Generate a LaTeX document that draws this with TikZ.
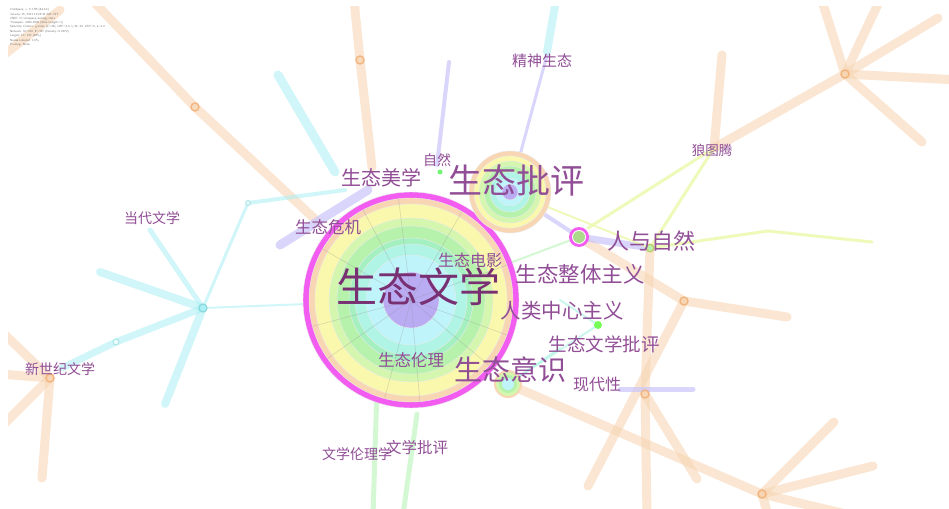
\documentclass[tikz,border=0pt]{standalone}
\usepackage{fontspec}
\newfontfamily\cjk{Noto Sans CJK SC}
\definecolor{peach}{RGB}{248,214,180}
\definecolor{peachd}{RGB}{240,172,112}
\definecolor{cyanl}{RGB}{170,240,245}
\definecolor{lav}{RGB}{205,200,250}
\definecolor{yel}{RGB}{236,250,175}
\definecolor{grn}{RGB}{190,245,190}
\definecolor{lab}{RGB}{145,78,150}
\definecolor{labd}{RGB}{120,48,115}
\definecolor{pinkr}{RGB}{242,92,240}
\definecolor{ryel}{RGB}{250,248,172}
\definecolor{rgrn1}{RGB}{212,246,175}
\definecolor{rgrn2}{RGB}{182,242,172}
\definecolor{rgrn3}{RGB}{165,240,192}
\definecolor{rcy1}{RGB}{175,244,228}
\definecolor{rcy2}{RGB}{190,244,250}
\definecolor{rpur}{RGB}{185,172,242}
\tikzset{
  oline/.style={draw=peach, line width=9pt, line cap=round, opacity=0.6},
  cline/.style={draw=cyanl, line width=8pt, line cap=round, opacity=0.55},
  lline/.style={draw=lav, line width=4pt, line cap=round, opacity=0.75},
  yline/.style={draw=yel, line width=3pt, line cap=round, opacity=0.85},
  gline/.style={draw=grn, line width=5pt, line cap=round, opacity=0.65},
  spoke/.style={draw=black!45, line width=0.6pt, opacity=0.3},
  omark/.style={draw=peachd, line width=1.4pt, fill=peach, opacity=0.8},
  kw/.style={text=lab, inner sep=0pt, font=\cjk},
  hdr/.style={text=black!55, inner sep=0pt, anchor=west, font=\sffamily\fontsize{3}{3.6}\selectfont}
}
\begin{document}
\begin{tikzpicture}[x=1pt,y=-1pt]
\useasboundingbox (0,0) rectangle (949,508);
\fill[white] (0,0) rectangle (949,508);
% network points
\coordinate (wx) at (411,300);
\coordinate (pp) at (510,192);
\coordinate (rz) at (579,237);
\coordinate (ys) at (508,384);
\coordinate (n650) at (650,248);
\coordinate (n598) at (598,325);
\coordinate (o684) at (684,301);
\coordinate (o645) at (645,394);
\coordinate (o195) at (195,107);
\coordinate (o360) at (360,60);
\coordinate (hubTR) at (845,74);
\coordinate (hubBR) at (762,494);
\coordinate (hubL) at (50,378);
\coordinate (cyh) at (203,308);
\coordinate (lang) at (714,148);
\coordinate (c248) at (248,203);
\coordinate (c226) at (226,254);
\coordinate (c116) at (116,342);
\begin{scope}
\clip (8,7) rectangle (949,508);
% orange edges
\draw[oline] (0,58) -- (60,10);
\draw[oline] (92,0) -- (o195) -- (318,222);
\draw[oline] (354,0) -- (o360) -- (372,167);
\draw[oline] (hubTR) -- (823,4);
\draw[oline] (hubTR) -- (878,4);
\draw[oline] (hubTR) -- (938,18);
\draw[oline] (hubTR) -- (958,80);
\draw[oline] (hubTR) -- (922,142);
\draw[oline] (hubTR) -- (lang);
\draw[oline] (722,55) -- (lang);
\draw[oline] (rz) -- (o684) -- (787,317);
\draw[oline] (n650) -- (o645) -- (647,515);
\draw[oline] (o684) -- (588,486);
\draw[oline] (o645) -- (697,479);
\draw[oline] (ys) -- (hubBR);
\draw[oline] (hubBR) -- (834,422);
\draw[oline] (hubBR) -- (873,466);
\draw[oline] (hubBR) -- (850,515);
\draw[oline] (hubBR) -- (768,515);
\draw[oline] (hubL) -- (0,330);
\draw[oline] (hubL) -- (0,374);
\draw[oline] (hubL) -- (0,428);
\draw[oline] (hubL) -- (42,478);
% cyan edges
\draw[cline] (cyh) -- (100,272);
\draw[cline,line width=5pt] (cyh) -- (150,230);
\draw[cline] (cyh) -- (165,404);
\draw[cline,line width=7pt] (cyh) -- (c116) -- (62,368);
\draw[cline,line width=3pt] (cyh) -- (c226) -- (c248);
\draw[cline,line width=4pt] (c248) -- (345,190);
\draw[cline,line width=2pt] (cyh) -- (wx);
\draw[cline,line width=9pt] (278,75) -- (335,172);
\draw[cline] (556,0) -- (547,52);
% lavender edges
\draw[lline] (449,62) -- (437,165);
\draw[lline,line width=3pt] (547,55) -- (pp);
\draw[lline,line width=9pt] (280,245) -- (368,190);
\draw[lline] (pp) -- (rz);
\draw[lline,line width=7pt] (rz) -- (n650);
\draw[lline,line width=5pt] (620,389) -- (693,389);
% yellow edges
\draw[yline] (lang) -- (588,228);
\draw[yline] (lang) -- (n650);
\draw[yline] (n650) -- (768,231) -- (872,242);
\draw[yline,line width=2pt] (pp) -- (n650);
% green edges
\draw[gline] (377,388) -- (373,515);
\draw[gline] (417,414) -- (403,515);
\draw[gline,line width=2pt] (wx) -- (rz);
\draw[gline,line width=2pt,draw=rcy1] (ys) -- (n598) -- (560,300);
\draw[gline,line width=2pt,draw=rcy1] (ys) -- (560,348);
\end{scope}
% markers on edges
\foreach \p in {o195,o360,hubTR,o684,o645,hubBR,hubL}
  \draw[omark] (\p) circle (4pt);
\draw[draw=cyanl!70!teal, line width=1.2pt, fill=cyanl, opacity=0.7] (cyh) circle (4pt);
\draw[draw=cyanl!80!teal, line width=1pt, fill=white, opacity=0.6] (c116) circle (3pt);
\draw[draw=cyanl!80!teal, line width=1pt, fill=white, opacity=0.6] (c248) circle (2.5pt);
% big node 生态文学
\foreach \r/\c in {108/pinkr,102/peach,96/ryel,82/rgrn1,74/rgrn2,62/rgrn3,56/rcy1,45/rcy2,28/rpur}
  \fill[\c, draw=black!8, line width=0.4pt] (wx) circle (\r pt);
\foreach \a in {97,118,150,195,215,255,275,320,340,20,60}
  \draw[spoke] (wx) -- ++(\a:102pt);
% 生态批评
\foreach \r/\c in {41/peach,36/ryel,31/rgrn1,26/rgrn2,20/rcy1,14/rcy2,8/rpur}
  \fill[\c, draw=black!8, line width=0.4pt] (pp) circle (\r pt);
% 人与自然
\fill[pinkr] (rz) circle (10pt);
\fill[white] (rz) circle (7pt);
\fill[rgrn2!80!olive] (rz) circle (6pt);
% 生态意识 node
\foreach \r/\c in {14/peach,12/rgrn1,9/rgrn2,6/rcy2}
  \fill[\c] (ys) circle (\r pt);
% small dots
\fill[yel!60!olive] (n650) circle (4.5pt);
\fill[rgrn2] (n650) circle (3pt);
\fill[yel!50!green] (n598) circle (4pt);
\fill[grn!60!green] (440,172) circle (2.5pt);
% labels
\node[kw, text=labd, font=\cjk\fontsize{41}{41}\selectfont] (lwx) at (418,287) {生态文学};
\node[kw, font=\cjk\fontsize{34}{34}\selectfont] (lpp) at (516,180) {生态批评};
\node[kw, font=\cjk\fontsize{28}{28}\selectfont] (lys) at (510,370) {生态意识};
\node[kw, font=\cjk\fontsize{22}{22}\selectfont] (lrz) at (651,241) {人与自然};
\node[kw, font=\cjk\fontsize{21.5}{21.5}\selectfont] (lzt) at (580,274) {生态整体主义};
\node[kw, font=\cjk\fontsize{20.5}{20.5}\selectfont] (lrl) at (562,311) {人类中心主义};
\node[kw, font=\cjk\fontsize{18.5}{18.5}\selectfont] (lwp) at (604,344) {生态文学批评};
\node[kw, font=\cjk\fontsize{16}{16}\selectfont] (lxd) at (597,384) {现代性};
\node[kw, font=\cjk\fontsize{20}{20}\selectfont] (lmx) at (381,178) {生态美学};
\node[kw, font=\cjk\fontsize{16.5}{16.5}\selectfont] (lwj) at (328,227) {生态危机};
\node[kw, font=\cjk\fontsize{14}{14}\selectfont] (lzr) at (437,160) {自然};
\node[kw, font=\cjk\fontsize{16}{16}\selectfont] (ldy) at (470,260) {生态电影};
\node[kw, font=\cjk\fontsize{16.5}{16.5}\selectfont] (llz) at (411,360) {生态伦理};
\node[kw, font=\cjk\fontsize{15}{15}\selectfont] (ljs) at (542,61) {精神生态};
\node[kw, font=\cjk\fontsize{13.5}{13.5}\selectfont] (llt) at (712,150) {狼图腾};
\node[kw, font=\cjk\fontsize{14}{14}\selectfont] (ldd) at (152,218) {当代文学};
\node[kw, font=\cjk\fontsize{14}{14}\selectfont] (lxs) at (60,369) {新世纪文学};
\node[kw, font=\cjk\fontsize{14}{14}\selectfont] (lwl) at (357,454) {文学伦理学};
\node[kw, font=\cjk\fontsize{15.5}{15.5}\selectfont] (lwc) at (417,448) {文学批评};
% header text
\node[hdr] (h1) at (10,10) {CiteSpace, v. 5.7.R5 (64-bit)};
\node[hdr] (h2) at (10,14.3) {January 15, 2021 10:25:32 AM CST};
\node[hdr] (h3) at (10,18.6) {CNKI: D:/citespace/ecology/data};
\node[hdr] (h4) at (10,22.9) {Timespan: 2000-2020 (Slice Length=1)};
\node[hdr] (h5) at (10,27.2) {Selection Criteria: g-index (k=25), LRF=3.0, L/N=10, LBY=5, e=1.0};
\node[hdr] (h6) at (10,31.5) {Network: N=301, E=327 (Density=0.0072)};
\node[hdr] (h7) at (10,35.8) {Largest CC: 247 (82\%)};
\node[hdr] (h8) at (10,40.1) {Nodes Labeled: 1.0\%};
\node[hdr] (h9) at (10,44.4) {Pruning: None};
\end{tikzpicture}
\end{document}
